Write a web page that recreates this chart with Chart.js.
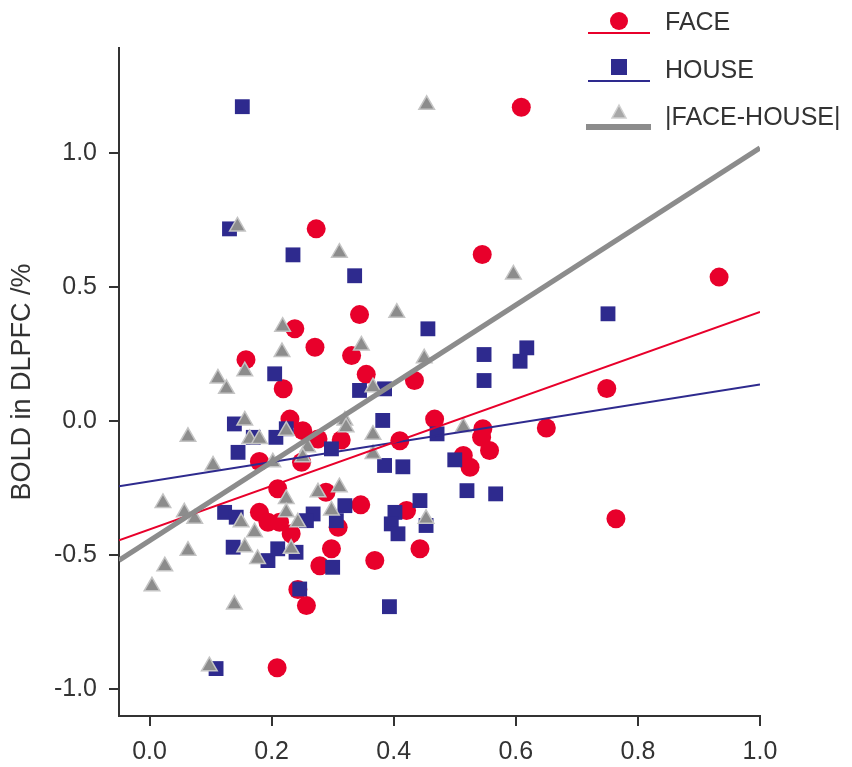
<!DOCTYPE html>
<html><head><meta charset="utf-8">
<style>html,body{margin:0;padding:0;background:#fff;}canvas{display:block;}</style>
<script src="https://cdn.jsdelivr.net/npm/chart.js"></script>
</head><body>
<canvas id="c" width="852" height="767"></canvas>
<script>
// ---- data ----
const seriesNames = ['FACE', 'HOUSE', '|FACE-HOUSE|'];
const faceX = [0.609,0.273,0.545,0.933,0.344,0.238,0.271,0.331,0.158,0.355,0.219,0.434,0.749,0.230,0.251,0.276,0.314,0.410,0.467,0.546,0.544,0.557,0.650,0.514,0.525,0.180,0.210,0.180,0.194,0.213,0.232,0.289,0.309,0.346,0.421,0.298,0.279,0.369,0.443,0.764,0.243,0.257,0.209,0.249];
const faceY = [1.172,0.718,0.622,0.538,0.398,0.345,0.276,0.245,0.230,0.175,0.121,0.152,0.122,0.008,-0.035,-0.066,-0.070,-0.073,0.008,-0.028,-0.060,-0.109,-0.025,-0.128,-0.172,-0.150,-0.252,-0.340,-0.377,-0.377,-0.420,-0.265,-0.396,-0.312,-0.333,-0.476,-0.539,-0.520,-0.476,-0.364,-0.628,-0.688,-0.920,-0.153];
const houseX = [0.152,0.131,0.235,0.336,0.751,0.456,0.548,0.618,0.607,0.548,0.205,0.344,0.385,0.139,0.145,0.170,0.207,0.224,0.298,0.382,0.385,0.415,0.471,0.500,0.520,0.567,0.443,0.402,0.396,0.407,0.453,0.123,0.142,0.268,0.257,0.320,0.306,0.137,0.194,0.210,0.240,0.300,0.246,0.393,0.109];
const houseY = [1.174,0.718,0.621,0.543,0.401,0.345,0.249,0.274,0.224,0.152,0.177,0.115,0.121,-0.010,-0.116,-0.060,-0.060,-0.028,-0.103,0.003,-0.165,-0.170,-0.047,-0.144,-0.259,-0.271,-0.296,-0.340,-0.383,-0.420,-0.389,-0.340,-0.358,-0.346,-0.371,-0.315,-0.371,-0.470,-0.520,-0.476,-0.489,-0.545,-0.626,-0.692,-0.923];
const diffX = [0.454,0.144,0.311,0.596,0.405,0.218,0.347,0.217,0.450,0.156,0.112,0.126,0.366,0.156,0.164,0.180,0.224,0.320,0.322,0.259,0.251,0.202,0.104,0.063,0.366,0.366,0.514,0.276,0.311,0.224,0.224,0.022,0.057,0.074,0.150,0.172,0.243,0.298,0.453,0.156,0.177,0.232,0.063,0.025,0.004,0.139,0.098];
const diffY = [1.181,0.727,0.629,0.548,0.405,0.353,0.283,0.258,0.235,0.187,0.160,0.121,0.127,0.003,-0.066,-0.066,-0.035,0.003,-0.022,-0.097,-0.134,-0.153,-0.165,-0.058,-0.050,-0.122,-0.022,-0.265,-0.246,-0.290,-0.340,-0.305,-0.340,-0.364,-0.377,-0.414,-0.377,-0.333,-0.364,-0.470,-0.514,-0.476,-0.483,-0.541,-0.616,-0.684,-0.914];
const fitX = [-0.05, 1.0];
const faceFit = [-0.444, 0.408];
const houseFit = [-0.243, 0.137];
const diffFit = [-0.519, 1.02];
const xTicks = [0.0, 0.2, 0.4, 0.6, 0.8, 1.0];
const yTicks = [-1.0, -0.5, 0.0, 0.5, 1.0];

// ---- styles ----
const RED = '#e8002b', BLUE = '#2e2a8e', GRAY = '#8c8c8c', GRAYB = '#c4c4c4', TXT = '#333333';
const FONT = '"Liberation Sans", Arial, sans-serif';
const pts = (xs, ys) => xs.map((x, i) => ({x: x, y: ys[i]}));

const legendPlugin = {
  id: 'customLegend',
  afterDraw(chart) {
    const ctx = chart.ctx;
    ctx.save();
    const lx0 = 588, lx1 = 650, mx = 619, tx = 665;
    // FACE
    ctx.strokeStyle = RED; ctx.lineWidth = 2;
    ctx.beginPath(); ctx.moveTo(lx0, 33); ctx.lineTo(lx1, 33); ctx.stroke();
    ctx.fillStyle = RED; ctx.beginPath(); ctx.arc(mx, 21, 9, 0, Math.PI * 2); ctx.fill();
    // HOUSE
    ctx.strokeStyle = BLUE; ctx.lineWidth = 2;
    ctx.beginPath(); ctx.moveTo(lx0, 81); ctx.lineTo(lx1, 81); ctx.stroke();
    ctx.fillStyle = BLUE; ctx.fillRect(mx - 8, 59, 16, 16);
    // DIFF
    ctx.strokeStyle = GRAY; ctx.lineWidth = 6;
    ctx.beginPath(); ctx.moveTo(586, 127); ctx.lineTo(651, 127); ctx.stroke();
    ctx.fillStyle = '#a8a8a8'; ctx.strokeStyle = '#d0d0d0'; ctx.lineWidth = 1.5;
    ctx.beginPath(); ctx.moveTo(mx, 105); ctx.lineTo(mx + 7, 118); ctx.lineTo(mx - 7, 118); ctx.closePath(); ctx.fill(); ctx.stroke();
    // texts
    ctx.fillStyle = TXT; ctx.font = '25px ' + FONT; ctx.textBaseline = 'middle'; ctx.textAlign = 'left';
    ctx.fillText(seriesNames[0], tx, 23);
    ctx.fillText(seriesNames[1], tx, 71);
    ctx.fillText(seriesNames[2], tx, 118);
    ctx.restore();
  }
};

new Chart(document.getElementById('c'), {
  type: 'scatter',
  data: {
    datasets: [
      {label: 'fitFace', data: pts(fitX, faceFit), showLine: true, borderColor: RED, borderWidth: 2, pointRadius: 0, order: 1},
      {label: 'fitHouse', data: pts(fitX, houseFit), showLine: true, borderColor: BLUE, borderWidth: 2, pointRadius: 0, order: 2},
      {label: 'fitDiff', data: pts(fitX, diffFit), showLine: true, borderColor: GRAY, borderWidth: 5, pointRadius: 0, order: 0},
      {label: seriesNames[2], data: pts(diffX, diffY), pointStyle: 'triangle', pointRadius: 9, backgroundColor: GRAY, borderColor: GRAYB, borderWidth: 1.5, order: 3},
      {label: seriesNames[1], data: pts(houseX, houseY), pointStyle: 'rect', pointRadius: 10.5, backgroundColor: BLUE, borderColor: BLUE, borderWidth: 0, order: 4},
      {label: seriesNames[0], data: pts(faceX, faceY), pointStyle: 'circle', pointRadius: 9.5, backgroundColor: RED, borderColor: RED, borderWidth: 0, order: 5}
    ]
  },
  options: {
    responsive: false, animation: false, devicePixelRatio: 1,
    layout: {padding: {left: 0, right: 92, top: 48, bottom: 0}},
    plugins: {legend: {display: false}, tooltip: {enabled: false}},
    scales: {
      x: {
        type: 'linear', min: -0.05, max: 1.0,
        afterBuildTicks: s => { s.ticks = xTicks.map(v => ({value: v})); },
        afterFit: s => { s.height = 51; },
        grid: {display: true, drawOnChartArea: false, drawTicks: true, tickLength: 10, color: TXT, lineWidth: 2},
        border: {display: true, color: TXT, width: 2},
        ticks: {color: TXT, font: {family: FONT, size: 25}, padding: 11, callback: v => v.toFixed(1), maxRotation: 0}
      },
      y: {
        type: 'linear', min: -1.1, max: 1.393,
        afterBuildTicks: s => { s.ticks = yTicks.map(v => ({value: v})); },
        afterFit: s => { s.width = 119; },
        grid: {display: true, drawOnChartArea: false, drawTicks: true, tickLength: 10, color: TXT, lineWidth: 2},
        border: {display: true, color: TXT, width: 2},
        ticks: {color: TXT, font: {family: FONT, size: 25}, padding: 12, callback: v => v.toFixed(1)},
        title: {display: true, text: 'BOLD in DLPFC /%', color: TXT, font: {family: FONT, size: 27}, padding: {top: 6, bottom: 4}}
      }
    }
  },
  plugins: [legendPlugin]
});
</script>
</body></html>
